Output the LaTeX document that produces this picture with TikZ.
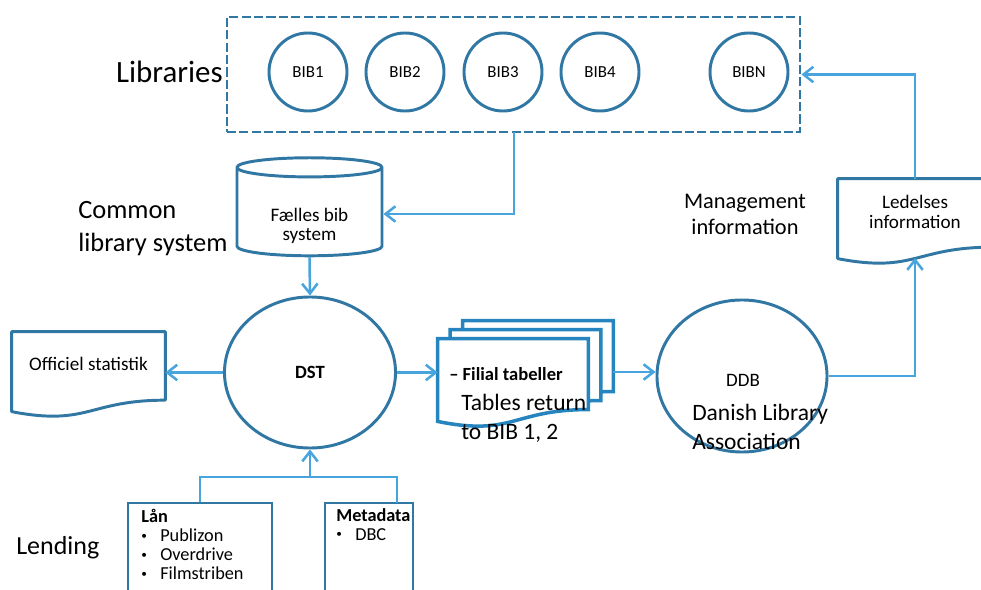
\documentclass[tikz,border=0pt]{standalone}
\usepackage{fontspec}
\setmainfont{Carlito}
\usetikzlibrary{arrows.meta,shapes.geometric,calc}
\definecolor{shapeB}{RGB}{49,119,163}
\definecolor{flowB}{RGB}{72,164,220}
\definecolor{stackB}{RGB}{38,132,190}
\newcommand{\fs}[2]{\fontsize{#1}{#2}\selectfont}
\newcommand{\bull}{\makebox[0.475cm][l]{\raisebox{0.25ex}{\fs{8}{8}\textbullet}}}
% wavy document outline round a named node
\newcommand{\docshape}[2]{%
  \draw[#1] let \p1=(#2.north west), \p2=(#2.south east) in
    (\p1) -- (\x2,\y1) -- (\x2,{\y1+0.8*(\y2-\y1)})
    .. controls ({(\x1+\x2)/2},{\y1+0.8*(\y2-\y1)}) and ({(\x1+\x2)/2},{\y1+1.107*(\y2-\y1)}) ..
    (\x1,{\y1+0.934*(\y2-\y1)}) -- cycle;}

\begin{document}
\begin{tikzpicture}[
  x=0.025cm, y=-0.025cm,
  shp/.style={draw=shapeB, line width=2.1pt},
  libbox/.style={rectangle, draw=shapeB, line width=2pt, dash pattern=on 6.5pt off 2.3pt,
    minimum width=14.325cm, minimum height=2.875cm, inner sep=0},
  bib/.style={circle, shp, minimum size=1.95cm, inner sep=0, font=\fs{12}{14}},
  store/.style={cylinder, shape border rotate=90, aspect=0.22, shp, minimum width=3.625cm,
    minimum height=2.45cm, align=center, font=\fs{13.6}{13.8}},
  proc/.style={ellipse, shp, inner sep=0},
  doc/.style={rectangle, inner sep=0, minimum height=2.125cm},
  docline/.style={shp, line join=round, fill=white},
  stackline/.style={draw=stackB, line width=2.5pt, fill=white},
  doctext/.style={font=\fs{13.6}{13.8}, align=center, inner sep=0},
  flow/.style={draw=flowB, line width=1.8pt, -{Straight Barb[length=7pt,width=11pt]}},
  flowline/.style={draw=flowB, line width=1.8pt},
  big/.style={font=\fs{18.8}{24}, align=left, inner sep=0},
  mid/.style={font=\fs{16.7}{20.6}, align=left, inner sep=0},
  listbox/.style={rectangle, shp, inner sep=0},
  listtext/.style={font=\fs{13}{13.5}, align=left, inner sep=0}]

  \useasboundingbox (0,0) rectangle (981,590);
  \clip (0,0) rectangle (981,590);

  % libraries
  \node[libbox] (libs) at (513.5,74.5) {};
  \foreach \nm/\x in {1/308,2/405,3/503,4/600}
    \node[bib] (bib\nm) at (\x,72) {BIB\nm};
  \node[bib] (bibN) at (749,72) {BIBN};
  \node[font=\fs{22}{26}, anchor=east, inner sep=0] (libtitle) at (223,72) {Libraries};

  % common library system
  \node[store] (fbs) at (309.5,214) {\rule{0pt}{26pt}Fælles bib\\system};
  \node[big, anchor=west] (fbstitle) at (78,228.5) {Common\\library system};

  % DST and official statistics
  \node[proc, minimum width=4.275cm, minimum height=3.775cm, font=\bfseries\fs{13.3}{14}] (dst) at (310,372.5) {DST};
  \node[doc, minimum width=3.825cm] (off) at (88.5,374.5) {};
  \docshape{docline}{off}
  \node[doctext] (offtxt) at (88.5,364) {Officiel statistik};

  % stacked branch tables
  \node[doc, minimum width=3.75cm, minimum height=2.2cm] (fil3) at (538,365) {};
  \node[doc, minimum width=3.75cm, minimum height=2.2cm] (fil2) at (525.5,374) {};
  \node[doc, minimum width=3.75cm, minimum height=2.2cm] (fil1) at (513,383) {};
  \docshape{stackline}{fil3}
  \docshape{stackline}{fil2}
  \docshape{stackline}{fil1}
  \node[font=\bfseries\fs{13.2}{14}, anchor=west, inner sep=0] (filtxt) at (449,374) {-- Filial tabeller};
  \node[mid, anchor=west] (filret) at (461,418.5) {Tables return\\to BIB 1, 2};

  % DDB
  \node[proc, minimum width=4.25cm, minimum height=3.8cm] (ddb) at (742,376) {};
  \node[font=\fs{13.5}{14}, inner sep=0] (ddbtxt) at (743,380) {DDB};
  \node[mid, anchor=west] (ddbname) at (692,426.5) {Danish Library\\Association};

  % management information
  \node[doc, minimum width=3.85cm] (led) at (915,221.5) {};
  \docshape{docline}{led}
  \node[doctext] (ledtxt) at (915,212) {Ledelses\\information};
  \node[font=\fs{15.9}{18.5}, align=center, inner sep=0] (mgmt) at (745,214.5) {Management\\information};

  % lending
  \node[listbox, minimum width=3.6cm, minimum height=2.925cm] (lan) at (200,561.5) {};
  \node[listbox, minimum width=2.2cm, minimum height=2.925cm] (meta) at (369,561.5) {};
  \node[listtext, anchor=north west] (lantxt) at (141,509) {\textbf{Lån}\\\bull Publizon\\\bull Overdrive\\\bull Filmstriben};
  \node[listtext, anchor=north west] (metatxt) at (336,508) {\textbf{Metadata}\\\bull DBC};
  \node[font=\fs{18.5}{22}, anchor=west, inner sep=0] (lendtitle) at (16,548) {Lending};

  % connectors
  \coordinate (libout) at (514,132);
  \coordinate (ledin) at (915,258);
  \coordinate (junc) at (310,477);
  \coordinate (metain) at (397,503);
  \draw[flow] (libout) |- (fbs.east);
  \draw[flow] (fbs.south) -- (dst.north);
  \draw[flow] (dst.west) -- (off.east |- dst.west);
  \draw[flow] (dst.east) -- (fil1.west |- dst.east);
  \draw[flow] (fil3.east |- 0,372) -- (ddb.west |- 0,372);
  \draw[flow] (ddb.east) -| (ledin);
  \draw[flow] (led.north) |- (libs.east);
  \draw[flowline] (lan.north) |- (junc) -| (metain);
  \draw[flow] (junc) -- (dst.south);
\end{tikzpicture}
\end{document}
